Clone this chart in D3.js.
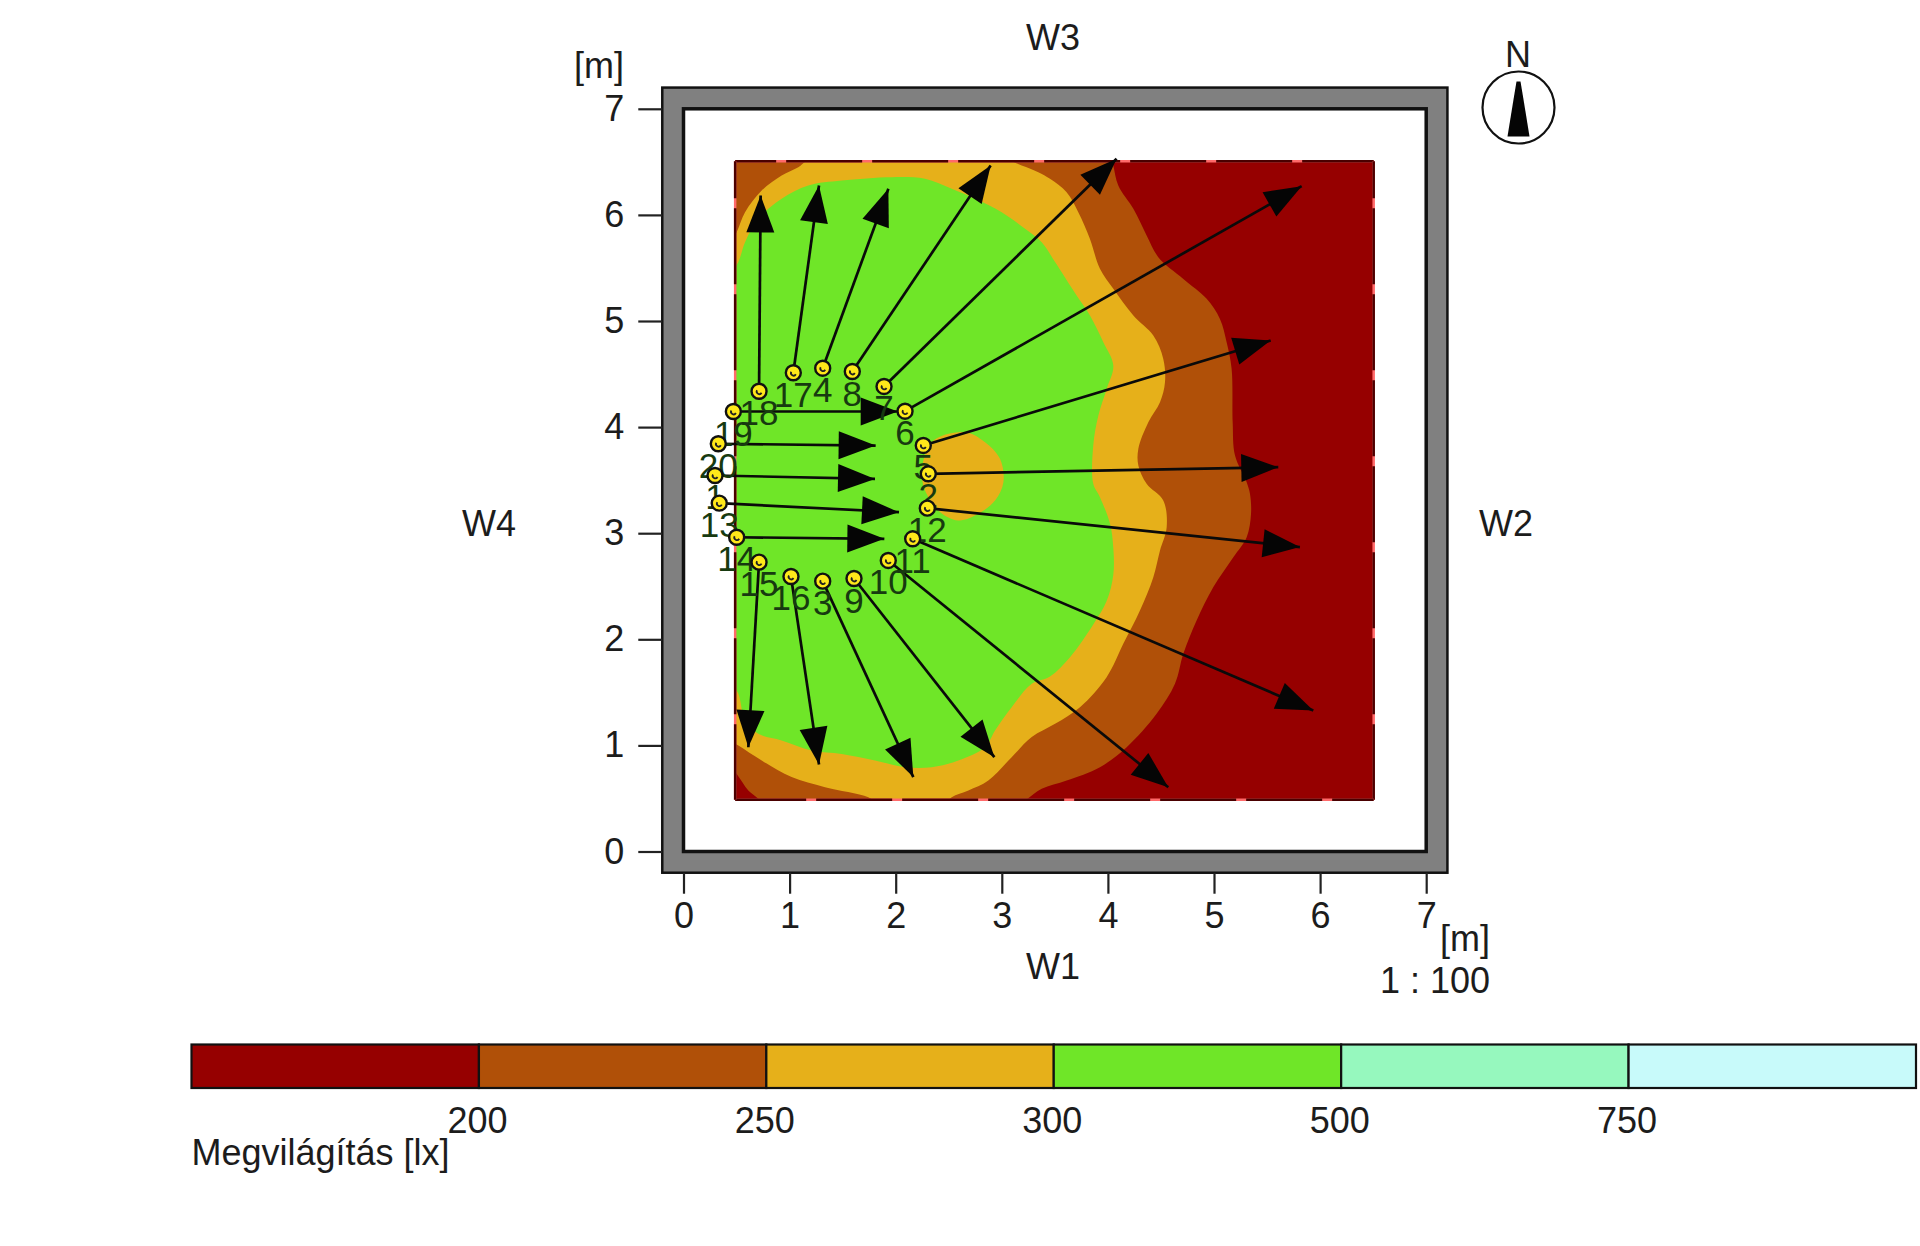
<!DOCTYPE html>
<html>
<head>
<meta charset="utf-8">
<title>Megvilágítás</title>
<script src="https://cdn.jsdelivr.net/npm/d3@7"></script>
<style>
    html, body { margin: 0; padding: 0; background: #fff; }
    text { font-family: "Liberation Sans", Arial, sans-serif; fill: #1c1c1c; }
</style>
</head>
<body>
<div id="chart"></div>
<script>
// ========== ДАННЫЕ ==========
const axisTicks = [0, 1, 2, 3, 4, 5, 6, 7];
const roomSize = 7;
const wallThickness = 0.2;
const fieldMin = 0.487;
const fieldMax = 6.505;

const legendLabels = ['', '200', '250', '300', '500', '750'];
const legendColors = ['#960000', '#b05008', '#e6b01a', '#6fe628', '#96f8be', '#c8fafa'];
const legendTitle = 'Megvilágítás [lx]';

// luminaires, index + 1 = number on the plan
const lampX = [0.297, 2.307, 1.312, 1.312, 2.26, 2.088, 1.89, 1.591, 1.607, 1.93,
    2.16, 2.298, 0.337, 0.501, 0.712, 1.013, 1.035, 0.712, 0.47, 0.328];
const lampY = [3.544, 3.56, 2.548, 4.555, 3.827, 4.15, 4.383, 4.524, 2.573, 2.743,
    2.947, 3.236, 3.283, 2.962, 2.727, 2.592, 4.512, 4.338, 4.147, 3.843];
const tipX = [1.805, 5.606, 2.166, 1.931, 5.534, 5.826, 4.082, 2.895, 2.93, 4.569,
    5.936, 5.81, 2.031, 1.893, 0.611, 1.277, 1.277, 0.727, 2.019, 1.811];
const tipY = [3.512, 3.622, 0.701, 6.246, 4.816, 6.271, 6.529, 6.466, 0.889, 0.606,
    1.329, 2.869, 3.198, 2.947, 0.983, 0.82, 6.277, 6.183, 4.147, 3.826];

// contours in metres
const contour200 = [[0.4, 6.6], [4.02, 6.6], [4.051, 6.466], [4.098, 6.277], [4.24, 6.057], [4.365, 5.806],
    [4.475, 5.602], [4.711, 5.397], [4.931, 5.209], [5.056, 5.02], [5.119, 4.8], [5.166, 4.549],
    [5.176, 4.046], [5.198, 3.732], [5.308, 3.481], [5.339, 3.371], [5.349, 3.183], [5.308, 2.963],
    [5.182, 2.774], [4.994, 2.492], [4.836, 2.177], [4.711, 1.863], [4.632, 1.58], [4.459, 1.298],
    [4.177, 0.983], [3.925, 0.795], [3.611, 0.669], [3.376, 0.591], [3.219, 0.48], [3.1, 0.4],
    [0.78, 0.4], [0.705, 0.497], [0.611, 0.575], [0.5, 0.732], [0.4, 0.85]];
const contour250 = [[0.4, 5.65], [0.501, 5.837], [0.58, 6.026], [0.737, 6.23], [0.925, 6.371], [1.082, 6.45],
    [1.208, 6.53], [3.0, 6.53], [3.187, 6.466], [3.344, 6.403], [3.454, 6.34], [3.611, 6.214],
    [3.721, 6.026], [3.831, 5.774], [3.925, 5.492], [4.051, 5.303], [4.24, 5.052], [4.428, 4.863],
    [4.522, 4.643], [4.538, 4.423], [4.491, 4.235], [4.381, 4.046], [4.287, 3.795], [4.287, 3.638],
    [4.365, 3.465], [4.522, 3.308], [4.554, 3.057], [4.491, 2.837], [4.428, 2.586], [4.302, 2.272],
    [4.145, 1.957], [3.988, 1.643], [3.737, 1.36], [3.502, 1.203], [3.282, 1.078], [3.093, 0.889],
    [2.873, 0.669], [2.685, 0.575], [2.528, 0.512], [2.45, 0.44], [1.85, 0.44], [1.742, 0.512],
    [1.334, 0.606], [1.019, 0.701], [0.737, 0.858], [0.517, 0.999], [0.4, 1.07]];
const contour300 = [[0.4, 5.35], [0.517, 5.555], [0.58, 5.743], [0.705, 5.963], [0.925, 6.152], [1.176, 6.277],
    [1.491, 6.324], [1.962, 6.356], [2.276, 6.34], [2.528, 6.246], [2.748, 6.152], [2.999, 6.026],
    [3.219, 5.869], [3.376, 5.743], [3.502, 5.555], [3.705, 5.24], [3.831, 5.052], [3.957, 4.8],
    [4.051, 4.58], [3.988, 4.36], [3.91, 4.109], [3.862, 3.827], [3.862, 3.465], [3.925, 3.34],
    [4.02, 3.089], [4.051, 2.86], [4.051, 2.609], [3.988, 2.36], [3.862, 2.14], [3.643, 1.832],
    [3.454, 1.65], [3.282, 1.58], [3.093, 1.36], [2.936, 1.14], [2.842, 0.983], [2.59, 0.858],
    [2.339, 0.795], [2.088, 0.795], [1.805, 0.858], [1.491, 0.92], [1.208, 0.952], [0.925, 1.046],
    [0.705, 1.109], [0.58, 1.235], [0.517, 1.486], [0.4, 1.7]];
const islandCenter = [[2.339, 3.858], [2.653, 3.952], [2.842, 3.858], [2.983, 3.701], [3.015, 3.481],
    [2.936, 3.308], [2.779, 3.183], [2.59, 3.12], [2.402, 3.214], [2.25, 3.5]];

// ========== РИСОВАНИЕ ==========
const width = 1920;
const height = 1246;
const fontSize = 36;

const svg = d3.select('#chart').append('svg')
    .attr('width', width)
    .attr('height', height)
    .attr('viewBox', `0 0 ${width} ${height}`)
    .style('display', 'block');

const x = d3.scaleLinear().domain([0, roomSize]).range([683.5, 1426.2]);
const y = d3.scaleLinear().domain([0, roomSize]).range([851.5, 108.8]);

// walls
svg.append('rect')
    .attr('x', x(-wallThickness))
    .attr('y', y(roomSize + wallThickness))
    .attr('width', x(roomSize + wallThickness) - x(-wallThickness))
    .attr('height', y(-wallThickness) - y(roomSize + wallThickness))
    .attr('fill', '#808080')
    .attr('stroke', '#111')
    .attr('stroke-width', 2.5);
svg.append('rect')
    .attr('x', x(0))
    .attr('y', y(roomSize))
    .attr('width', x(roomSize) - x(0))
    .attr('height', y(0) - y(roomSize))
    .attr('fill', '#fff')
    .attr('stroke', '#111')
    .attr('stroke-width', 3.5);

// axes
const xAxis = d3.axisBottom(x).tickValues(axisTicks).tickFormat(d3.format('d')).tickSize(21).tickPadding(9);
const yAxis = d3.axisLeft(y).tickValues(axisTicks).tickFormat(d3.format('d')).tickSize(24).tickPadding(14);

const gx = svg.append('g').attr('transform', `translate(0,${y(-wallThickness)})`).call(xAxis);
const gy = svg.append('g').attr('transform', `translate(${x(-wallThickness)},0)`).call(yAxis);
[gx, gy].forEach(g => {
    g.select('.domain').remove();
    g.selectAll('.tick line').attr('stroke', '#222').attr('stroke-width', 2.2);
    g.selectAll('.tick text').attr('font-size', fontSize).attr('font-family', null).attr('fill', '#1c1c1c');
});

// illuminance field
const defs = svg.append('defs');
defs.append('clipPath').attr('id', 'field-clip').append('rect')
    .attr('x', x(fieldMin))
    .attr('y', y(fieldMax))
    .attr('width', x(fieldMax) - x(fieldMin))
    .attr('height', y(fieldMin) - y(fieldMax));

const contourLine = d3.line()
    .x(d => x(d[0]))
    .y(d => y(d[1]))
    .curve(d3.curveCatmullRomClosed.alpha(0.5));

const field = svg.append('g').attr('clip-path', 'url(#field-clip)');
field.append('rect')
    .attr('x', x(fieldMin))
    .attr('y', y(fieldMax))
    .attr('width', x(fieldMax) - x(fieldMin))
    .attr('height', y(fieldMin) - y(fieldMax))
    .attr('fill', legendColors[0]);

const bands = [
    { points: contour200, color: legendColors[1] },
    { points: contour250, color: legendColors[2] },
    { points: contour300, color: legendColors[3] },
    { points: islandCenter, color: legendColors[2] }
];
field.selectAll('path')
    .data(bands)
    .enter().append('path')
    .attr('d', d => contourLine(d.points))
    .attr('fill', d => d.color);

// outline of the calculation surface: pink under a broken dark line, each edge has its own phase
const outlineEdges = [
    { x1: fieldMin, y1: fieldMax, x2: fieldMax, y2: fieldMax, offset: 35 },
    { x1: fieldMax, y1: fieldMax, x2: fieldMax, y2: fieldMin, offset: 39 },
    { x1: fieldMin, y1: fieldMin, x2: fieldMax, y2: fieldMin, offset: 5 },
    { x1: fieldMin, y1: fieldMax, x2: fieldMin, y2: fieldMin, offset: 39 }
];
const outline = svg.append('g').selectAll('g')
    .data(outlineEdges)
    .enter().append('g');
['#ff6a6a', '#4a0000'].forEach((color, i) => {
    outline.append('line')
        .attr('x1', d => x(d.x1))
        .attr('y1', d => y(d.y1))
        .attr('x2', d => x(d.x2))
        .attr('y2', d => y(d.y2))
        .attr('stroke', color)
        .attr('stroke-width', 2.5)
        .attr('stroke-dasharray', i ? '76,10' : null)
        .attr('stroke-dashoffset', d => i ? d.offset : null);
});

// arrows
const lamps = lampX.map((v, i) => ({
    id: i + 1,
    x: v,
    y: lampY[i],
    tx: tipX[i],
    ty: tipY[i]
}));

const headLength = 37;
const headHalf = 14;

function arrowHead(d) {
    const x1 = x(d.x), y1 = y(d.y), x2 = x(d.tx), y2 = y(d.ty);
    const len = Math.hypot(x2 - x1, y2 - y1);
    const ux = (x2 - x1) / len, uy = (y2 - y1) / len;
    const bx = x2 - ux * headLength, by = y2 - uy * headLength;
    return [[x2, y2], [bx - uy * headHalf, by + ux * headHalf], [bx + uy * headHalf, by - ux * headHalf]]
        .map(p => p.join(',')).join(' ');
}

svg.append('g')
    .selectAll('line')
    .data(lamps)
    .enter().append('line')
    .attr('x1', d => x(d.x))
    .attr('y1', d => y(d.y))
    .attr('x2', d => x(d.tx))
    .attr('y2', d => y(d.ty))
    .attr('stroke', '#0a0a0a')
    .attr('stroke-width', 2.7);

svg.append('g')
    .selectAll('polygon')
    .data(lamps)
    .enter().append('polygon')
    .attr('points', arrowHead)
    .attr('fill', '#050505');

// lamp numbers
svg.append('g')
    .selectAll('text')
    .data(lamps)
    .enter().append('text')
    .attr('x', d => x(d.x))
    .attr('y', d => y(d.y) + 34)
    .attr('text-anchor', 'middle')
    .attr('font-size', 35)
    .style('fill', '#173a10')
    .text(d => d.id);

// lamps
const lampGroup = svg.append('g')
    .selectAll('g')
    .data(lamps)
    .enter().append('g')
    .attr('transform', d => `translate(${x(d.x)},${y(d.y)})`);
lampGroup.append('circle')
    .attr('r', 7.5)
    .attr('fill', '#ffe81a')
    .attr('stroke', '#111')
    .attr('stroke-width', 2.4);
lampGroup.append('path')
    .attr('d', 'M-2,-1 A2.5,2.5 0 0 0 2.5,1.5')
    .attr('fill', 'none')
    .attr('stroke', '#222')
    .attr('stroke-width', 1.8);

// wall names and units
const labels = [
    { text: 'W3', x: 1053, y: 50, anchor: 'middle' },
    { text: 'W1', x: 1053, y: 979, anchor: 'middle' },
    { text: 'W4', x: 489, y: 536, anchor: 'middle' },
    { text: 'W2', x: 1506, y: 536, anchor: 'middle' },
    { text: '[m]', x: 624, y: 78, anchor: 'end' },
    { text: '[m]', x: 1490, y: 951, anchor: 'end' },
    { text: '1 : 100', x: 1490, y: 993, anchor: 'end' },
    { text: 'N', x: 1518, y: 67, anchor: 'middle' }
];
svg.append('g')
    .selectAll('text')
    .data(labels)
    .enter().append('text')
    .attr('x', d => d.x)
    .attr('y', d => d.y)
    .attr('text-anchor', d => d.anchor)
    .attr('font-size', fontSize)
    .text(d => d.text);

// north sign
const compass = svg.append('g').attr('transform', 'translate(1518.5,107.5)');
compass.append('circle')
    .attr('r', 36)
    .attr('fill', '#fff')
    .attr('stroke', '#111')
    .attr('stroke-width', 2.2);
compass.append('polygon')
    .attr('points', '-2,-26 2,-26 5,-8 11,29 -11,29 -5,-8')
    .attr('fill', '#050505');

// legend
const legendX = d3.scaleLinear().domain([0, legendColors.length]).range([191.5, 1916]);
const legendTop = 1044.5;
const legendBottom = 1088;

const legend = svg.append('g');
legend.selectAll('rect')
    .data(legendColors)
    .enter().append('rect')
    .attr('x', (d, i) => legendX(i))
    .attr('y', legendTop)
    .attr('width', (d, i) => legendX(i + 1) - legendX(i))
    .attr('height', legendBottom - legendTop)
    .attr('fill', d => d)
    .attr('stroke', '#111')
    .attr('stroke-width', 2.2);
legend.selectAll('text.level')
    .data(legendLabels)
    .enter().append('text')
    .attr('class', 'level')
    .attr('x', (d, i) => legendX(i) - 1.5)
    .attr('y', 1133)
    .attr('text-anchor', 'middle')
    .attr('font-size', fontSize)
    .text(d => d);
legend.append('text')
    .attr('x', legendX(0))
    .attr('y', 1165)
    .attr('font-size', fontSize)
    .text(legendTitle);
</script>
</body>
</html>
